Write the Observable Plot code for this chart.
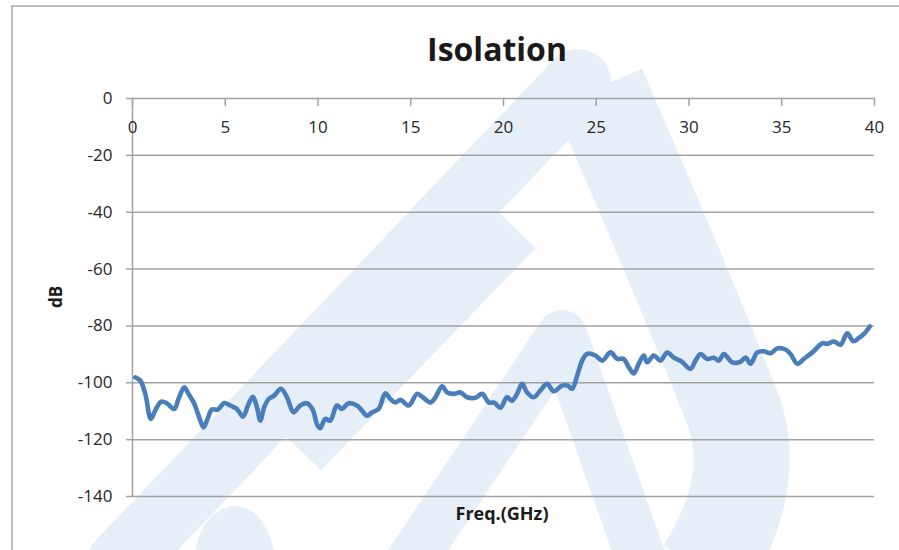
<!DOCTYPE html>
<html>
<head>
<meta charset="utf-8">
<script src="https://cdn.jsdelivr.net/npm/d3@7"></script>
<script src="https://cdn.jsdelivr.net/npm/@observablehq/plot@0.6"></script>
<style>
  html, body { margin: 0; padding: 0; background: #fff; }
  #wrap { position: relative; width: 899px; height: 550px; overflow: hidden; background: #fff; }
  #bg, #chart { position: absolute; left: 0; top: 0; }
  #chart svg { display: block; }
</style>
</head>
<body>
<div id="wrap">
  <svg id="bg" width="899" height="550">
    <g fill="none" stroke="#e6eff8" stroke-linejoin="round">
      <path d="M 118,565 L 578,82" stroke-width="66" stroke-linecap="round"/>
      <path d="M 598,88 C 625,150 690,300 735,415 C 752,470 735,520 705,570" stroke-width="96" stroke-linecap="butt"/>
      <path d="M 300,450 L 515,228" stroke-width="58" stroke-linecap="butt"/>
      <path d="M 405,570 L 562,335 L 645,570" stroke-width="50"/>
    </g>
    <path d="M 195,555 C 200,500 260,480 275,555 Z" fill="#e6eff8"/>
    <path d="M 12,560 L 12,6 L 905,6" fill="none" stroke="#a6a6a6" stroke-width="1.5"/>
    <text x="497" y="61" text-anchor="middle" font-family="'Open Sans'" font-weight="700" font-size="32" fill="#1a1a1a">Isolation</text>
    <text x="502" y="520" text-anchor="middle" font-family="'Open Sans'" font-weight="700" font-size="18" fill="#1a1a1a">Freq.(GHz)</text>
    <text x="62" y="297" text-anchor="middle" font-family="'Open Sans'" font-weight="700" font-size="17" fill="#1a1a1a" transform="rotate(-90 62 297)">dB</text>
  </svg>
  <div id="chart"></div>
</div>
<script>
const freqGHz = [0.15,0.42,0.69,0.99,1.22,1.55,1.85,2.25,2.48,2.79,3.02,3.33,3.6,3.83,4.05,4.28,4.59,4.95,5.27,5.63,5.95,6.26,6.49,6.71,6.89,7.1,7.34,7.64,8.0,8.33,8.68,9.04,9.4,9.72,9.94,10.12,10.39,10.66,11.02,11.29,11.65,12.1,12.37,12.64,12.91,13.27,13.63,13.9,14.17,14.44,14.89,15.34,15.61,16.06,16.33,16.69,16.96,17.31,17.68,18.04,18.48,18.85,19.2,19.5,19.83,20.19,20.46,20.73,21.0,21.27,21.63,21.99,22.35,22.71,23.16,23.46,23.7,23.97,24.24,24.51,24.96,25.32,25.77,26.13,26.48,26.75,27.02,27.29,27.56,27.75,28.1,28.46,28.82,29.22,29.6,30.08,30.35,30.62,30.98,31.34,31.61,31.88,32.33,32.78,33.05,33.32,33.68,34.03,34.4,34.76,35.2,35.47,35.84,36.19,36.65,37.19,37.46,37.81,38.17,38.53,38.86,39.16,39.43,39.75];
const isolationDb = [-98.1,-99.2,-103.9,-112.7,-109.8,-106.6,-107.2,-109.2,-105.7,-101.6,-103.9,-107.4,-112.2,-115.7,-112.7,-109.4,-109.4,-107.1,-108,-109.2,-111.9,-107.4,-104.9,-108.6,-113.3,-108.6,-105.7,-104.5,-102.1,-105.1,-110.4,-108,-107.2,-109.5,-114.5,-116,-112.7,-113.3,-108,-109.2,-107.2,-108,-109.8,-111.6,-110.4,-109.2,-103.7,-105.7,-106.9,-106,-108,-103.9,-104.9,-106.9,-105.1,-101.2,-103.4,-103.9,-103.4,-105.1,-105.3,-103.9,-106.9,-107,-108.8,-105.1,-106.3,-103.9,-100.4,-103.4,-105.1,-102.7,-100.4,-103,-101,-101,-102.1,-97.5,-92.2,-89.8,-90.4,-92.2,-89.3,-91.6,-91.6,-94.5,-96.7,-93.3,-90.4,-92.8,-90.4,-92.2,-89.4,-91.3,-92.5,-95.1,-92.2,-89.9,-91.6,-91.2,-92.2,-89.9,-92.8,-92.6,-91.1,-93.3,-89.3,-88.9,-89.6,-87.9,-88.3,-89.9,-93.3,-91.6,-89.3,-86.1,-86.3,-85.5,-86.6,-82.6,-85.4,-84.2,-82.8,-80.2];
const xTicks = [0, 5, 10, 15, 20, 25, 30, 35, 40];
const yTicks = [0, -20, -40, -60, -80, -100, -120, -140];

const data = freqGHz.map((f, i) => ({f, db: isolationDb[i]}));
const gridColor = "#a3a3a3";
const textColor = "#262626";
const tickShape = {draw(context, l) { context.moveTo(0, 0); context.lineTo(0, -l); }};

const chart = Plot.plot({
  width: 899,
  height: 550,
  marginLeft: 132,
  marginRight: 25,
  marginTop: 98,
  marginBottom: 54,
  x: {domain: [0, 40], axis: null},
  y: {domain: [-140, 0], axis: null},
  style: {background: "transparent", fontFamily: "'Open Sans', sans-serif", fontSize: "17px", color: textColor},
  marks: [
    Plot.gridY(yTicks, {stroke: gridColor, strokeOpacity: 1, strokeWidth: 1.5}),
    Plot.ruleX([0], {stroke: gridColor, strokeWidth: 1.5}),
    Plot.axisY(yTicks, {anchor: "left", tickSize: 6, tickPadding: 14, stroke: gridColor, strokeWidth: 1.5, fill: textColor, fontSize: 17, label: null, tickFormat: d => String(d)}),
    Plot.vector(xTicks, {x: d => d, y: () => 0, length: 7, rotate: 180, anchor: "start", shape: tickShape, stroke: gridColor, strokeWidth: 1.5}),
    Plot.text(xTicks, {x: d => d, y: () => 0, dy: 29, text: d => String(d), fill: textColor, fontSize: 17}),
    Plot.line(data, {x: "f", y: "db", stroke: "#4a7ebb", strokeWidth: 4.6, curve: "catmull-rom", strokeLinejoin: "round", strokeLinecap: "round"})
  ]
});
document.getElementById("chart").appendChild(chart);
</script>
</body>
</html>
